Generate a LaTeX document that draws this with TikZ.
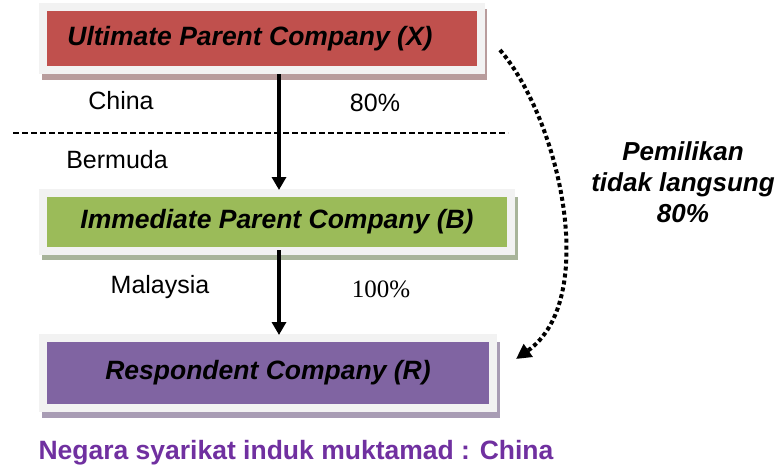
\documentclass[tikz,border=0pt]{standalone}
\usepackage{fontspec}
\setmainfont{Liberation Sans}
\newfontfamily\timesf{Liberation Serif}
\usetikzlibrary{arrows.meta,backgrounds}
\definecolor{cred}{HTML}{C0504D}
\definecolor{cgreen}{HTML}{9BBB59}
\definecolor{cpurple}{HTML}{8064A2}
\definecolor{frame}{HTML}{F2F2F2}
\definecolor{shred}{HTML}{B89C9C}
\definecolor{shgreen}{HTML}{A8B49A}
\definecolor{shpurple}{HTML}{A89CB4}
\definecolor{titlepurple}{HTML}{7030A0}
\tikzset{
  company/.style={draw=frame, line width=8pt, inner sep=0pt, minimum height=63pt,
    font=\fontsize{26.5}{30}\selectfont\bfseries\itshape},
  label/.style={font=\fontsize{25}{30}\selectfont, inner sep=0pt},
  arr/.style={line width=3.6pt, -{Triangle[width=14pt,length=13pt]}},
  dotarr/.style={line width=4pt, dash pattern=on 4pt off 3pt,
    -{Triangle[width=15pt,length=15pt]}},
}
\begin{document}
\begin{tikzpicture}[x=1pt,y=-1pt]
\useasboundingbox (0,0) rectangle (781,468);
% boxes
\node[company, fill=cred, minimum width=438pt] (X) at (262,39) {Ultimate Parent Company (X)\hspace*{24pt}};
\node[company, fill=cgreen, minimum width=468pt, minimum height=58pt] (B) at (277,222) {Immediate Parent Company (B)};
\node[company, fill=cpurple, minimum width=450pt, minimum height=70pt] (R) at (268,373) {Respondent Company (R)};
% shadows
\begin{scope}[on background layer]
\fill[shred] ([shift={(3,6)}]X.south west) rectangle ([shift={(2,6)}]X.north east);
\fill[shgreen] ([shift={(3,5)}]B.south west) rectangle ([shift={(3,8)}]B.north east);
\fill[shpurple] ([shift={(3,6)}]R.south west) rectangle ([shift={(3,8)}]R.north east);
\end{scope}
% labels
\node[label] (china) at (121,101) {China};
\node[label] (p80) at (375,103) {80\%};
\node[label] (bermuda) at (117,160) {Bermuda};
\node[label] (malaysia) at (160,287) {Malaysia};
\node[label, font=\fontsize{25}{30}\selectfont\timesf] (p100) at (381,289) {100\%};
% dashed border line
\coordinate (dl) at (13,133);
\coordinate (dr) at (508,133);
\draw[line width=2.4pt, dash pattern=on 6pt off 3pt] (dl) -- (dr);
% arrows
\coordinate (ax) at (279,0);
\draw[arr] (X.south -| ax) -- ([yshift=-1]B.north -| ax);
\draw[arr] ([yshift=5]B.south -| ax) -- ([yshift=-1]R.north -| ax);
% indirect ownership
\coordinate (cs) at (500,50);
\coordinate (ce) at (516,359);
\draw[dotarr] (cs) .. controls (560,120) and (600,300) .. (ce);
\node[font=\fontsize{26}{31}\selectfont\bfseries\itshape, align=center, inner sep=0pt] (own) at (683,182)
  {Pemilikan\\tidak langsung\\80\%};
% caption
\node[font=\fontsize{26.5}{30}\selectfont\bfseries, text=titlepurple, inner sep=0pt] (cap) at (296,453)
  {Negara syarikat induk muktamad : China};
\end{tikzpicture}
\end{document}
